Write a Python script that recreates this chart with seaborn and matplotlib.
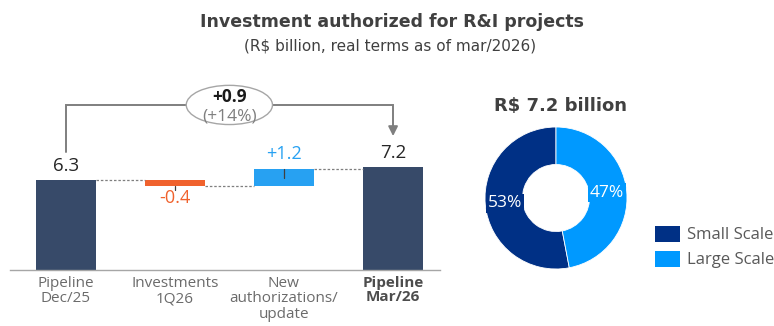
import matplotlib
matplotlib.use("Agg")
import matplotlib.pyplot as plt
from matplotlib.patches import Ellipse, Patch
import seaborn as sns
import pandas as pd

sns.set_theme(style="white")
plt.rcParams["font.family"] = ["Open Sans", "DejaVu Sans"]

# Waterfall data (R$ billion)
steps = ["Pipeline\nDec/25", "Investments\n1Q26", "New\nauthorizations/\nupdate", "Pipeline\nMar/26"]
step_values = [6.3, -0.4, 1.2, 7.2]
step_labels = ["6.3", "-0.4", "+1.2", "7.2"]
step_colors = ["#374A69", "#F0622D", "#27A1F2", "#374A69"]
total_change = "+0.9"
total_change_pct = "(+14%)"

# Split of the final pipeline
split_names = ["Small Scale", "Large Scale"]
split_shares = [53, 47]
split_colors = ["#003085", "#0099FF"]
split_total = "R$ 7.2 billion"

fig = plt.figure(figsize=(7.74, 3.26), dpi=100)

# ---- waterfall ----
ax = fig.add_axes([10 / 774, 56 / 326, 430 / 774, 190 / 326])
starts = [0, step_values[0], step_values[0] + step_values[1], 0]
ends = [s + v for s, v in zip(starts, step_values)]
bottoms = [min(s, e) for s, e in zip(starts, ends)]
sizes = [abs(v) for v in step_values]
df = pd.DataFrame({"step": steps, "size": sizes})
sns.barplot(data=df, x="step", y="size", hue="step", palette=step_colors, width=0.55,
            legend=False, ax=ax, saturation=1, linewidth=0)
# lift the change bars so they float between running totals
for patch in ax.patches:
    i = int(round(patch.get_x() + patch.get_width() / 2))
    patch.set_y(bottoms[i])

# dotted connectors between consecutive bars
for i in range(3):
    ax.plot([i + 0.275, i + 1 - 0.275], [ends[i], ends[i]],
            ls=(0, (2, 1.5)), color="#7F7F7F", lw=0.9, zorder=1)

# value labels
ax.text(0, ends[0] + 0.4, step_labels[0], ha="center", va="bottom", fontsize=13.5, color="#262626")
ax.text(3, ends[3] + 0.4, step_labels[3], ha="center", va="bottom", fontsize=13.5, color="#262626")
ax.text(1, ends[1] - 0.25, step_labels[1], ha="center", va="top",
        fontsize=13, color="#F0622D")
ax.text(2, ends[2] + 0.4, step_labels[2], ha="center", va="bottom", fontsize=13, color="#27A1F2")
# small markers through the change bars
ax.plot([1, 1], [ends[1], ends[1] - 0.3], color="#404040", lw=0.9)
ax.plot([2, 2], [ends[2], ends[2] - 0.65], color="#404040", lw=0.9)

# bracket with total change
yb = 11.58
ax.plot([0, 0, 3, 3], [8.3, yb, yb, 9.9], color="#7F7F7F", lw=1.4, solid_joinstyle="miter")
ax.annotate("", xy=(3, 9.2), xytext=(3, 10.0),
            arrowprops=dict(arrowstyle="-|>", color="#7F7F7F", lw=1.4, mutation_scale=14))
ax.add_patch(Ellipse((1.5, yb), 0.79, 2.75, facecolor="white", edgecolor="#A6A6A6", lw=1.0, zorder=3))
ax.text(1.5, 12.15, total_change, ha="center", va="center", fontsize=12.5, fontweight="bold",
        color="#1A1A1A", zorder=4)
ax.text(1.5, 10.78, total_change_pct, ha="center", va="center", fontsize=12.5, color="#7F7F7F", zorder=4)

ax.set_xlim(-0.51, 3.43)
ax.set_ylim(0, 13.33)
ax.set_xlabel("")
ax.set_ylabel("")
ax.set_yticks([])
ax.tick_params(axis="x", length=0, pad=4)
ax.set_xticks(range(4))
ax.set_xticklabels(steps, fontsize=11, color="#6B6B6B", linespacing=1.05)
ax.get_xticklabels()[3].set_fontweight("bold")
ax.get_xticklabels()[3].set_color("#4D4D4D")
for s in ["top", "right", "left"]:
    ax.spines[s].set_visible(False)
ax.spines["bottom"].set_color("#A6A6A6")
ax.spines["bottom"].set_linewidth(1.0)

# ---- donut ----
ax2 = fig.add_axes([(556 - 75) / 774, (326 - 198 - 75) / 326, 150 / 774, 150 / 326])
ax2.pie(split_shares, colors=split_colors, startangle=90, counterclock=True,
        radius=71 / 75, wedgeprops=dict(width=0.50, edgecolor="white", linewidth=0.6))
ax2.set_aspect("equal")
ax2.set_xlim(-1, 1)
ax2.set_ylim(-1, 1)
ax2.text(-0.68, -0.07, f"{split_shares[0]}%", ha="center", va="center", fontsize=12.5, color="white",
         bbox=dict(boxstyle="square,pad=0.08", fc=split_colors[0], ec="none"))
ax2.text(0.68, 0.07, f"{split_shares[1]}%", ha="center", va="center", fontsize=12.5, color="white",
         bbox=dict(boxstyle="square,pad=0.08", fc=split_colors[1], ec="none"))

fig.text(560 / 774, 1 - 106 / 326, split_total, ha="center", va="center", fontsize=13,
         fontweight="bold", color="#404040", family="DejaVu Sans")

handles = [Patch(facecolor=c, edgecolor="none") for c in split_colors]
fig.legend(handles, split_names, loc="center left", bbox_to_anchor=(655 / 774, 1 - 247 / 326),
           frameon=False, fontsize=12, handlelength=1.5, handleheight=1.1, handletextpad=0.4,
           labelspacing=0.45, labelcolor="#595959", borderaxespad=0, borderpad=0)

# ---- titles ----
fig.text(392 / 774, 1 - 22 / 326, "Investment authorized for R&I projects", ha="center", va="center",
         fontsize=12.5, fontweight="bold", color="#404040", family="DejaVu Sans")
fig.text(390 / 774, 1 - 46 / 326, "(R$ billion, real terms as of mar/2026)", ha="center", va="center",
         fontsize=11, color="#404040", family="DejaVu Sans")

fig.savefig("out.png", dpi=100, facecolor="white")
